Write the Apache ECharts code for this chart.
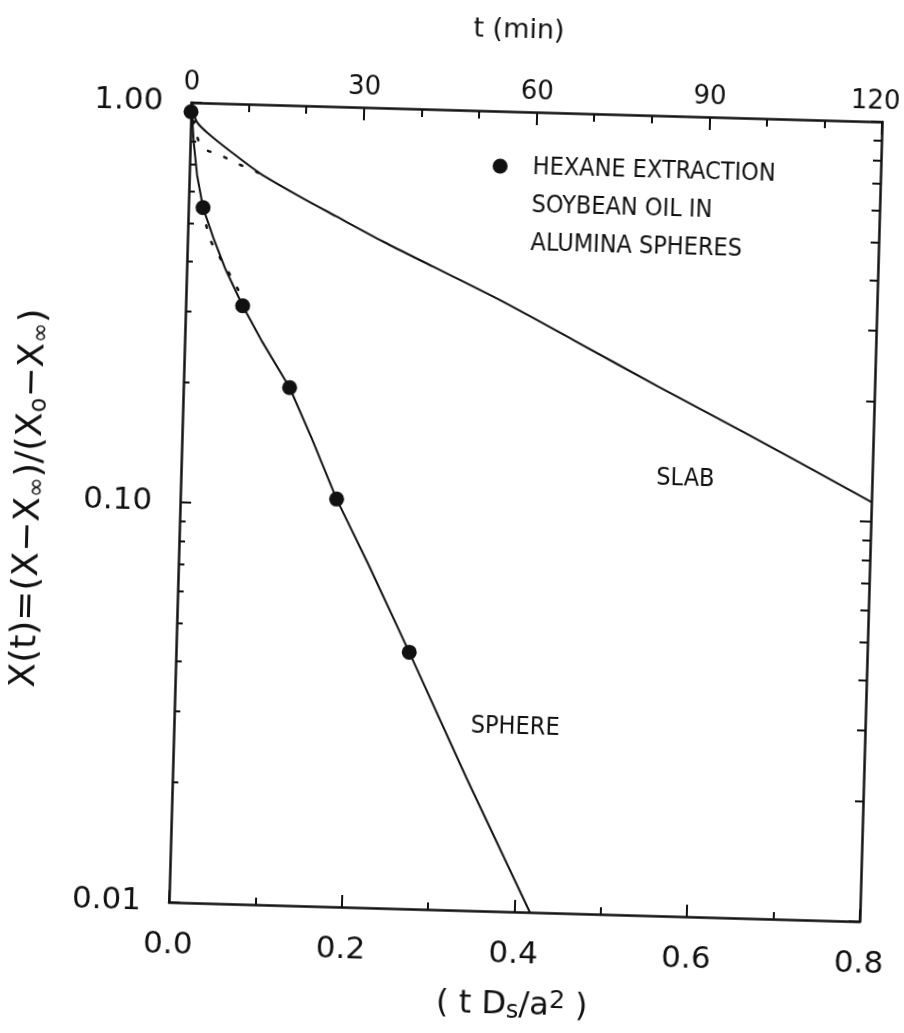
<!DOCTYPE html>
<html>
<head>
<meta charset="utf-8">
<script src="https://cdn.jsdelivr.net/npm/echarts@6/dist/echarts.min.js"></script>
<style>
  html, body { margin: 0; padding: 0; background: #ffffff; overflow: hidden; }
  #chart { width: 904px; height: 1033px; transform: rotate(1.6deg); transform-origin: 525.5px 512px; background: #ffffff; }
</style>
</head>
<body>
<div id="chart"></div>
<script>
// ---- data ----
// measured points: hexane extraction of soybean oil in alumina spheres
const pointsX = [0.0, 0.017, 0.066, 0.123, 0.181, 0.270];
const pointsY = [0.948, 0.547, 0.313, 0.197, 0.1045, 0.0438];

// sphere curve
const sphereX = [0.0, 0.004, 0.009, 0.017, 0.030, 0.045, 0.066, 0.090, 0.123, 0.150, 0.181, 0.220, 0.270, 0.340, 0.418];
const sphereY = [1.0, 0.80, 0.66, 0.547, 0.460, 0.385, 0.313, 0.255, 0.197, 0.148, 0.1045, 0.072, 0.0438, 0.0215, 0.0100];

// slab curve
const slabX = [0.0, 0.0068, 0.0227, 0.0502, 0.0817, 0.1289, 0.1719, 0.2267, 0.2854, 0.3636, 0.45, 0.55, 0.65, 0.80];
const slabY = [1.0, 0.897, 0.832, 0.751, 0.673, 0.592, 0.531, 0.463, 0.404, 0.337, 0.271, 0.210, 0.164, 0.112];

// dotted curves near the origin
const dotAX = [0.003, 0.0134, 0.0349, 0.0545, 0.0771, 0.090];
const dotAY = [0.90, 0.776, 0.743, 0.710, 0.679, 0.655];
const dotBX = [0.016, 0.0252, 0.0361, 0.0483, 0.0604];
const dotBY = [0.545, 0.459, 0.418, 0.380, 0.343];

// axes / ticks
const xMin = 0, xMax = 0.8, xStep = 0.2;
const tMin = 0, tMax = 120, tStep = 30;
const yMajor = [0.01, 0.1, 1];
const yMinor = [0.02, 0.03, 0.04, 0.05, 0.06, 0.07, 0.08, 0.09, 0.2, 0.3, 0.4, 0.5, 0.6, 0.7, 0.8, 0.9];

// text annotations (anchored in data coordinates)
const curveLabels = [[0.584, 0.124, 'SLAB'], [0.395, 0.029, 'SPHERE']];
const legendLines = ['HEXANE EXTRACTION', 'SOYBEAN OIL IN', 'ALUMINA SPHERES'];

// ---- chart ----
const zip = (xs, ys) => xs.map((x, i) => [x, ys[i]]);
const ink = '#111111';
const tickFont = 'DejaVu Sans';
const narrow = "'Liberation Sans Narrow', 'DejaVu Sans Condensed', 'Liberation Sans', sans-serif";

const chart = echarts.init(document.getElementById('chart'), null, { renderer: 'canvas' });

const frameLine = { show: true, lineStyle: { color: ink, width: 2.5 } };

function yAxisDef(pos, values, len, withLabels, withLine, extra) {
  return Object.assign({
    type: 'log', logBase: 10, min: 0.01, max: 1, position: pos,
    axisLine: withLine ? frameLine : { show: false },
    axisTick: { show: true, inside: true, length: len, customValues: values, lineStyle: { color: ink, width: 2 } },
    axisLabel: withLabels ? {
      show: true, customValues: values, margin: 28, color: ink,
      fontFamily: tickFont, fontSize: 31,
      formatter: v => Number(v).toFixed(2)
    } : { show: false },
    splitLine: { show: false }, minorTick: { show: false }
  }, extra || {});
}

const option = {
  animation: false,
  backgroundColor: '#ffffff',
  grid: { left: 180, top: 112, width: 691, height: 800, containLabel: false },
  legend: {
    show: true,
    data: [{ name: 'HEXANE EXTRACTION', icon: 'circle' }],
    left: 483, top: 72, padding: 0,
    itemWidth: 15, itemHeight: 15,
    selectedMode: false,
    formatter: () => '\n\n' + legendLines.join('\n'),
    itemStyle: { color: ink, opacity: 1 },
    textStyle: { color: ink, fontFamily: narrow, fontSize: 25, lineHeight: 38, padding: [0, 0, 0, 20] }
  },
  xAxis: [
    {
      type: 'value', min: xMin, max: xMax, interval: xStep, position: 'bottom',
      axisLine: frameLine,
      axisTick: { show: true, inside: true, length: 12, lineStyle: { color: ink, width: 2 } },
      minorTick: { show: true, splitNumber: 2, length: 7, lineStyle: { color: ink, width: 2 } },
      axisLabel: { color: ink, fontFamily: tickFont, fontSize: 31, margin: 27, formatter: v => v.toFixed(1) },
      splitLine: { show: false },
      name: '( t D{sub|s}/a{sup|2} )', nameLocation: 'middle', nameGap: 76,
      nameTextStyle: {
        color: ink, fontFamily: tickFont, fontSize: 32,
        rich: {
          sub: { fontFamily: tickFont, fontSize: 24, verticalAlign: 'bottom', padding: [12, 0, 0, 0], color: ink },
          sup: { fontFamily: tickFont, fontSize: 25, verticalAlign: 'top', padding: [0, 0, 10, 0], color: ink }
        }
      }
    },
    {
      type: 'value', min: tMin, max: tMax, interval: tStep, position: 'top',
      axisLine: frameLine,
      axisTick: { show: true, inside: true, length: 13, lineStyle: { color: ink, width: 2 } },
      minorTick: { show: true, splitNumber: 3, length: 8, lineStyle: { color: ink, width: 2 } },
      axisLabel: {
        color: ink, fontFamily: tickFont, fontSize: 26, margin: 7,
        formatter: v => (v === tMax ? '{e|' + v + '}' : String(v)),
        rich: { e: { color: ink, fontFamily: tickFont, fontSize: 26, padding: [0, 14, 0, 0] } }
      },
      splitLine: { show: false },
      name: 't (min)', nameLocation: 'middle', nameGap: 68,
      nameTextStyle: { color: ink, fontFamily: tickFont, fontSize: 27, padding: [0, 40, 0, 0] }
    }
  ],
  yAxis: [
    yAxisDef('left', yMajor, 11, true, true, {
      name: 'X(t)=(X−X{sub|∞})/(X{sub|o}−X{sub|∞})', nameLocation: 'middle', nameGap: 131, nameRotate: 90,
      nameTextStyle: {
        color: ink, fontFamily: tickFont, fontSize: 36,
        rich: { sub: { fontFamily: tickFont, fontSize: 24, verticalAlign: 'bottom', padding: [14, 0, 0, 0], color: ink } }
      }
    }),
    yAxisDef('left', yMinor, 6, false, false),
    yAxisDef('right', yMajor, 11, false, true),
    yAxisDef('right', yMinor, 8, false, false)
  ],
  series: [
    {
      name: 'SPHERE', type: 'line', xAxisIndex: 0, yAxisIndex: 0,
      data: zip(sphereX, sphereY), showSymbol: false, symbol: 'none', silent: true,
      lineStyle: { color: ink, width: 2 }, z: 3
    },
    {
      name: 'SLAB', type: 'line', xAxisIndex: 0, yAxisIndex: 0, smooth: 0.3,
      data: zip(slabX, slabY), showSymbol: false, symbol: 'none', silent: true,
      lineStyle: { color: ink, width: 2 }, z: 3
    },
    {
      name: 'dotted A', type: 'line', xAxisIndex: 0, yAxisIndex: 0, smooth: 0.3,
      data: zip(dotAX, dotAY), showSymbol: false, symbol: 'none', silent: true,
      lineStyle: { color: ink, width: 2.5, type: [2.5, 15], cap: 'round' }, z: 2
    },
    {
      name: 'dotted B', type: 'line', xAxisIndex: 0, yAxisIndex: 0,
      data: zip(dotBX, dotBY), showSymbol: false, symbol: 'none', silent: true,
      lineStyle: { color: ink, width: 2.5, type: [2.5, 15], cap: 'round' }, z: 2
    },
    {
      name: 'HEXANE EXTRACTION', type: 'scatter', xAxisIndex: 0, yAxisIndex: 0,
      data: zip(pointsX, pointsY), symbol: 'circle', symbolSize: 15,
      itemStyle: { color: ink, opacity: 1 }, z: 5
    },
    {
      name: 'curve labels', type: 'scatter', xAxisIndex: 0, yAxisIndex: 0,
      data: curveLabels.map(d => ({ value: [d[0], d[1]], name: d[2] })),
      symbolSize: 0, silent: true,
      itemStyle: { opacity: 1 },
      label: { show: true, position: 'inside', formatter: p => p.name, color: ink, fontFamily: narrow, fontSize: 25 },
      z: 4
    }
  ]
};

chart.setOption(option);
</script>
</body>
</html>
